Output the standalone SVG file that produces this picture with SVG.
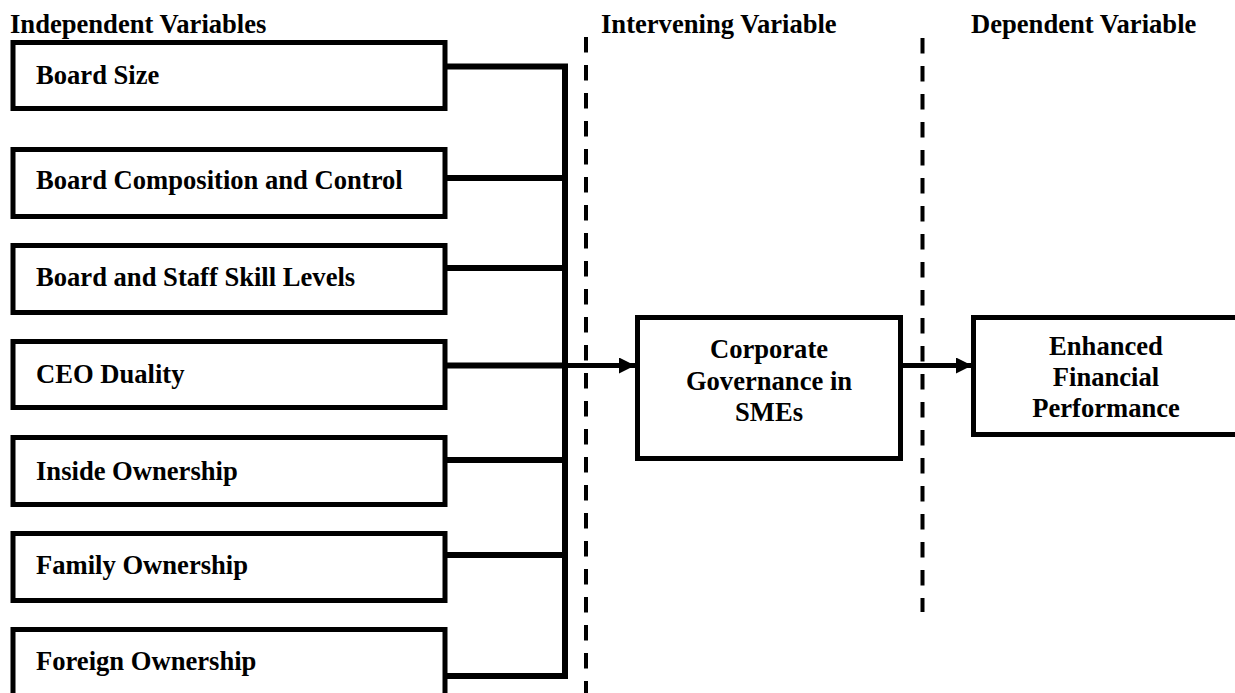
<svg xmlns="http://www.w3.org/2000/svg" width="1235" height="693" viewBox="0 0 1235 693">
<style>
  text { font-family: "Liberation Serif", "Times New Roman", serif; font-weight: bold; font-size: 26.6px; fill: #000; }
  .box { fill: #fff; stroke: #000; stroke-width: 5; }
  .conn { fill: none; stroke: #000; stroke-width: 6; stroke-linejoin: miter; }
  .arrow { fill: none; stroke: #000; stroke-width: 5; }
  .dash { fill: none; stroke: #000; stroke-width: 4; stroke-dasharray: 15.5 12.5; }
  .mid { text-anchor: middle; }
</style>
<defs>
  <marker id="ah" markerWidth="16" markerHeight="16" refX="16" refY="8" orient="auto" markerUnits="userSpaceOnUse">
    <path d="M0,0 L16,8 L0,16 Z" fill="#000"/>
  </marker>
</defs>
<g id="headings">
  <text x="10" y="33">Independent Variables</text>
  <text x="601" y="33">Intervening Variable</text>
  <text x="971" y="33">Dependent Variable</text>
</g>
<g id="dividers">
  <line class="dash" x1="586" y1="37" x2="586" y2="693"/>
  <line class="dash" x1="922.5" y1="38" x2="922.5" y2="612"/>
</g>
<g id="connectors">
  <path class="conn" d="M447 66.5 H565 V676 H447"/>
  <line class="conn" x1="447" y1="178" x2="565" y2="178"/>
  <line class="conn" x1="447" y1="268" x2="565" y2="268"/>
  <line class="conn" x1="447" y1="365.5" x2="565" y2="365.5"/>
  <line class="conn" x1="447" y1="460" x2="565" y2="460"/>
  <line class="conn" x1="447" y1="555" x2="565" y2="555"/>
  <line class="arrow" x1="565" y1="365.5" x2="635" y2="365.5" marker-end="url(#ah)"/>
  <line class="arrow" x1="903" y1="365.5" x2="972" y2="365.5" marker-end="url(#ah)"/>
</g>
<g id="board-size">
  <rect class="box" x="13" y="42.5" width="432" height="66"/>
  <text x="36" y="84">Board Size</text>
</g>
<g id="board-composition">
  <rect class="box" x="13" y="149.5" width="432" height="67"/>
  <text x="36" y="189">Board Composition and Control</text>
</g>
<g id="board-staff-skill">
  <rect class="box" x="13" y="245.5" width="432" height="67"/>
  <text x="36" y="286">Board and Staff Skill Levels</text>
</g>
<g id="ceo-duality">
  <rect class="box" x="13" y="341.5" width="432" height="66"/>
  <text x="36" y="383">CEO Duality</text>
</g>
<g id="inside-ownership">
  <rect class="box" x="13" y="437.5" width="432" height="67"/>
  <text x="36" y="480">Inside Ownership</text>
</g>
<g id="family-ownership">
  <rect class="box" x="13" y="533.5" width="432" height="67"/>
  <text x="36" y="574">Family Ownership</text>
</g>
<g id="foreign-ownership">
  <rect class="box" x="13" y="629.5" width="432" height="80"/>
  <text x="36" y="670">Foreign Ownership</text>
</g>
<g id="corporate-governance">
  <rect class="box" x="637.5" y="317.5" width="263" height="141"/>
  <text class="mid" x="769" y="358">Corporate</text>
  <text class="mid" x="769" y="390">Governance in</text>
  <text class="mid" x="769" y="421">SMEs</text>
</g>
<g id="enhanced-performance">
  <rect class="box" x="973.5" y="317.5" width="280" height="117"/>
  <text class="mid" x="1106" y="355">Enhanced</text>
  <text class="mid" x="1106" y="386">Financial</text>
  <text class="mid" x="1106" y="417">Performance</text>
</g>
</svg>
